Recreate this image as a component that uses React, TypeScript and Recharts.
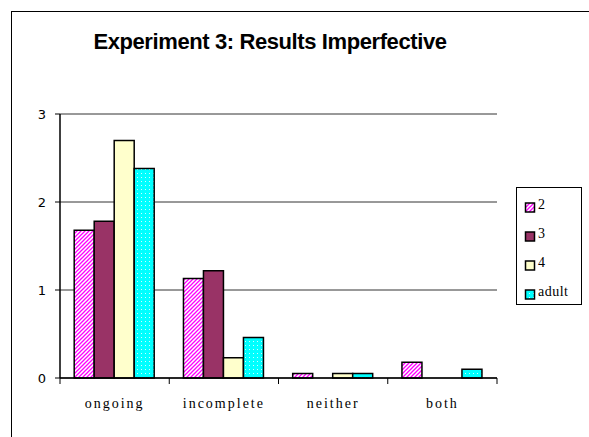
import React from 'react';
import { Bar, BarChart, CartesianGrid, XAxis, YAxis } from 'recharts';

const categories = ['ongoing', 'incomplete', 'neither', 'both'];
const seriesNames = ['2', '3', '4', 'adult'];
const age2 = [1.68, 1.13, 0.05, 0.18];
const age3 = [1.78, 1.22, 0, 0];
const age4 = [2.7, 0.23, 0.05, 0];
const adult = [2.38, 0.46, 0.05, 0.1];
const yTicks = [0, 1, 2, 3];
const boundaryTicks = [0, 1, 2, 3, 4];

const data = categories.map((name, i) => ({
  name,
  idx: i + 0.5,
  s2: age2[i],
  s3: age3[i],
  s4: age4[i],
  adult: adult[i],
}));

const SERIES = [
  { key: 's2', name: seriesNames[0], fill: 'url(#stripePink)' },
  { key: 's3', name: seriesNames[1], fill: '#993366' },
  { key: 's4', name: seriesNames[2], fill: '#FFFFCC' },
  { key: 'adult', name: seriesNames[3], fill: 'url(#dotCyan)' },
];

const serif = '"Liberation Serif", "DejaVu Serif", serif';

// fill patterns shared by bars and legend swatches
const Patterns: React.FC = () => (
  <svg width={0} height={0} style={{ position: 'absolute' }}>
    <defs>
      <pattern id="stripePink" width={4} height={4} patternUnits="userSpaceOnUse">
        <rect width={4} height={4} fill="#ffffff" />
        <path d="M-1,1 l2,-2 M0,4 l4,-4 M3,5 l2,-2" stroke="#FF00FF" strokeWidth={1.3} />
      </pattern>
      <pattern id="dotCyan" width={4} height={4} patternUnits="userSpaceOnUse">
        <rect width={4} height={4} fill="#00FFFF" />
        <rect x={1} y={1} width={1} height={1} fill="#ccffff" />
      </pattern>
    </defs>
  </svg>
);

const LegendBox: React.FC = () => (
  <div
    style={{
      position: 'absolute',
      left: 516,
      top: 187,
      width: 66,
      height: 118,
      border: '1px solid #000',
      boxSizing: 'border-box',
      background: '#fff',
      paddingTop: 10,
    }}
  >
    {SERIES.map((s) => (
      <div key={s.key} style={{ display: 'flex', alignItems: 'flex-start', height: 29, marginLeft: 7 }}>
        <svg width={12} height={14} style={{ marginTop: 3 }}>
          <rect x={1.5} y={2} width={9} height={9} fill={s.fill} stroke="#000" strokeWidth={1.5} />
        </svg>
        <span style={{ fontFamily: serif, fontSize: 14, marginLeft: 2, lineHeight: '14px', letterSpacing: 0.5 }}>
          {s.name}
        </span>
      </div>
    ))}
  </div>
);

const NoLabel = () => <g />;

export default function App() {
  return (
    <div style={{ position: 'fixed', left: 0, top: 0, width: 589, height: 437, background: '#fff', overflow: 'hidden' }}>
      <Patterns />
      <div
        style={{
          position: 'absolute',
          left: 11,
          top: 11,
          width: 600,
          height: 450,
          borderLeft: '1.5px solid #000',
          borderTop: '1.5px solid #000',
        }}
      />
      <div
        style={{
          position: 'absolute',
          left: 0,
          width: 540,
          top: 29,
          textAlign: 'center',
          fontFamily: '"Liberation Sans", Arial, sans-serif',
          fontWeight: 'bold',
          fontSize: 22,
          letterSpacing: -0.4,
        }}
      >
        Experiment 3: Results Imperfective
      </div>
      <div style={{ position: 'absolute', left: 0, top: 0 }}>
        <BarChart
          width={589}
          height={437}
          data={data}
          margin={{ top: 114, right: 92, bottom: 29, left: 0 }}
          barCategoryGap="13%"
          barGap={0}
        >
          <CartesianGrid vertical={false} stroke="#333" strokeWidth={1} />
          {/* baseline with tick marks between the categories */}
          <XAxis
            dataKey="idx"
            xAxisId="bounds"
            type="number"
            domain={[0, 4]}
            ticks={boundaryTicks}
            tick={NoLabel}
            tickSize={6}
            tickLine={{ stroke: '#000' }}
            axisLine={{ stroke: '#000', strokeWidth: 1.5 }}
            height={6}
          />
          <XAxis
            dataKey="name"
            xAxisId="cat"
            height={24}
            tickLine={false}
            axisLine={false}
            tick={{ fontFamily: serif, fontSize: 14, fill: '#000', letterSpacing: 2 }}
            tickMargin={8}
          />
          <YAxis
            domain={[0, 3]}
            ticks={yTicks}
            width={60}
            tickSize={5}
            tickMargin={9}
            tickLine={{ stroke: '#000' }}
            axisLine={{ stroke: '#000', strokeWidth: 1.5 }}
            tick={{ fontFamily: '"DejaVu Sans", sans-serif', fontSize: 13, fill: '#000' }}
          />
          <YAxis
            yAxisId="frame"
            orientation="right"
            domain={[0, 3]}
            width={0}
            tick={false}
            tickLine={false}
            axisLine={{ stroke: '#808080' }}
          />
          {SERIES.map((s) => (
            <Bar
              key={s.key}
              dataKey={s.key}
              name={s.name}
              xAxisId="cat"
              fill={s.fill}
              stroke="#000"
              strokeWidth={1.5}
              isAnimationActive={false}
            />
          ))}
        </BarChart>
      </div>
      <LegendBox />
    </div>
  );
}
